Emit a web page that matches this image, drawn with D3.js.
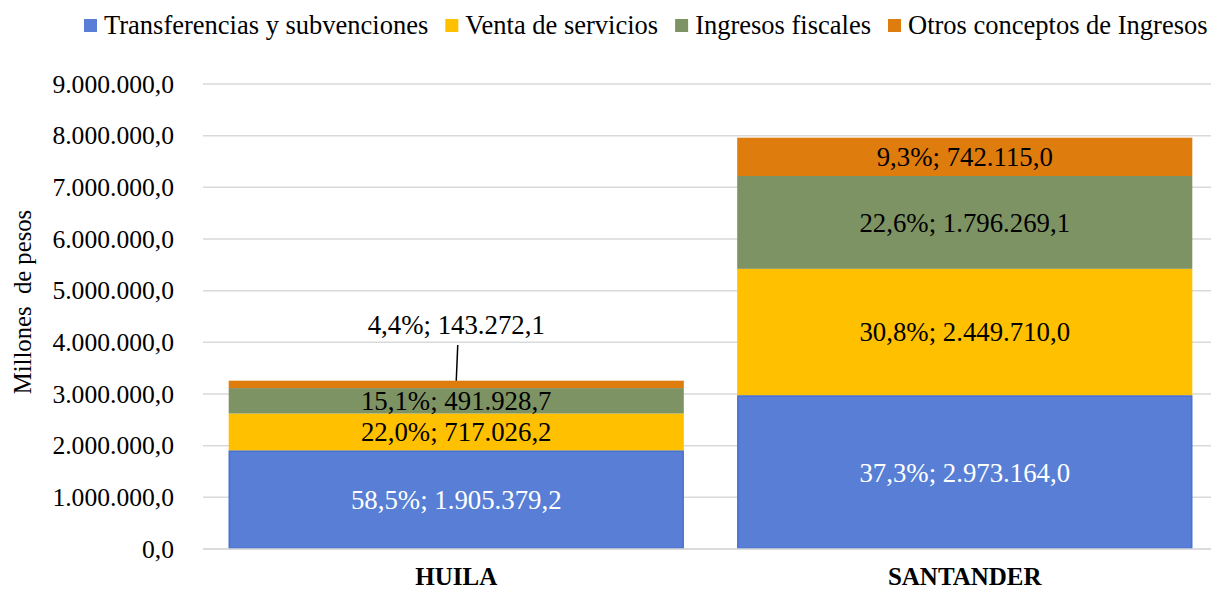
<!DOCTYPE html>
<html><head><meta charset="utf-8">
<script src="https://cdn.jsdelivr.net/npm/d3@7"></script>
<style>body{margin:0;background:#fff}svg, svg text{font-family:"Liberation Serif","Times New Roman",Times,"DejaVu Serif",serif !important}</style>
</head><body><svg id="c" width="1211" height="591"></svg>
<script>
const categories = ["HUILA", "SANTANDER"];
const seriesNames = ["Transferencias y subvenciones", "Venta de servicios", "Ingresos fiscales", "Otros conceptos de Ingresos"];
const transferencias = [1905379.2, 2973164.0];
const ventaServicios = [717026.2, 2449710.0];
const ingresosFiscales = [491928.7, 1796269.1];
const otrosConceptos = [143272.1, 742115.0];
const percentLabels = [["58,5%", "37,3%"], ["22,0%", "30,8%"], ["15,1%", "22,6%"], ["4,4%", "9,3%"]];
const yTicks = [0, 1000000, 2000000, 3000000, 4000000, 5000000, 6000000, 7000000, 8000000, 9000000];
const colors = ["#587fd5", "#ffc000", "#7d9363", "#df7c0e"];
const labelColors = ["#ffffff", "#000000", "#000000", "#000000"];

const seriesValues = [transferencias, ventaServicios, ingresosFiscales, otrosConceptos];
const rows = categories.map((c, i) => {
  const r = {cat: c};
  seriesNames.forEach((s, k) => r[s] = seriesValues[k][i]);
  return r;
});
const stack = d3.stack().keys(seriesNames)(rows);

const svg = d3.select("#c");
const y = d3.scaleLinear().domain([0, 9000000]).range([549, 84]);
const x = d3.scaleBand().domain(categories).range([202, 1219]).paddingInner(0.105).paddingOuter(0.0525);

const fmt = d3.formatLocale({decimal: ",", thousands: ".", grouping: [3], currency: ["", ""]}).format(",.1f");

// gridlines
svg.append("g").selectAll("line").data(yTicks).join("line")
  .attr("x1", 203).attr("x2", 1211)
  .attr("y1", d => y(d)).attr("y2", d => y(d))
  .attr("stroke", "#d9d9d9").attr("stroke-width", 1.5);

// y axis labels
const yAxis = d3.axisLeft(y).tickValues(yTicks).tickFormat(fmt).tickSize(0).tickPadding(0);
const yg = svg.append("g").attr("transform", "translate(174,0)").call(yAxis);
yg.attr("font-family", null).attr("font-size", null);
yg.select(".domain").remove();
yg.selectAll("text").attr("font-size", 25.6).attr("fill", "#000");

// bars
const layers = svg.append("g").selectAll("g").data(stack).join("g")
  .attr("fill", (d, i) => colors[i]);
layers.selectAll("rect").data(d => d).join("rect")
  .attr("x", d => x(d.data.cat))
  .attr("width", x.bandwidth())
  .attr("y", d => y(d[1]))
  .attr("height", d => y(d[0]) - y(d[1]));
// blue border
svg.append("g").selectAll("rect").data(stack[0]).join("rect")
  .attr("x", d => x(d.data.cat) + 0.75).attr("width", x.bandwidth() - 1.5)
  .attr("y", d => y(d[1]) + 0.75).attr("height", d => y(d[0]) - y(d[1]) - 1.5)
  .attr("fill", "none").attr("stroke", "#4a72d0").attr("stroke-width", 1.5);

// baseline
svg.append("line").attr("x1", 203).attr("x2", 1211).attr("y1", y(0)).attr("y2", y(0))
  .attr("stroke", "#d9d9d9").attr("stroke-width", 1.5);

// data labels
stack.forEach((layer, k) => {
  layer.forEach((d, i) => {
    const cx = x(d.data.cat) + x.bandwidth() / 2;
    const txt = percentLabels[k][i] + "; " + fmt(d.data[layer.key]);
    let cy = (y(d[0]) + y(d[1])) / 2;
    if (k === 3 && i === 0) {
      const ly = 325;
      svg.append("line").attr("x1", cx + 1.5).attr("y1", ly + 20).attr("x2", cx).attr("y2", y(d[1]))
        .attr("stroke", "#000").attr("stroke-width", 1.5);
      svg.append("text").attr("x", cx).attr("y", ly).attr("dy", "0.35em")
        .attr("text-anchor", "middle").attr("font-size", 26.8).attr("fill", "#000").text(txt);
    } else {
      svg.append("text").attr("x", cx).attr("y", cy).attr("dy", "0.35em")
        .attr("text-anchor", "middle").attr("font-size", 26.8).attr("fill", labelColors[k]).text(txt);
    }
  });
});

// x axis labels
svg.append("g").selectAll("text").data(categories).join("text")
  .attr("x", d => x(d) + x.bandwidth() / 2).attr("y", 576).attr("dy", "0.35em")
  .attr("text-anchor", "middle").attr("font-weight", "bold").attr("font-size", 25).text(d => d);

// y title
svg.append("text").attr("transform", "translate(22,302) rotate(-90)").attr("dy", "0.35em")
  .attr("text-anchor", "middle").attr("font-size", 24.7).attr("xml:space", "preserve")
  .text("Millones  de pesos");

// legend
const legend = svg.append("g");
let lx = 84;
seriesNames.forEach((s, k) => {
  legend.append("rect").attr("x", lx).attr("y", 19).attr("width", 13).attr("height", 13).attr("fill", colors[k]);
  const t = legend.append("text").attr("x", lx + 20).attr("y", 25).attr("dy", "0.35em")
    .attr("font-size", 26.5).attr("fill", "#000").text(s);
  lx += 20 + t.node().getComputedTextLength() + 17;
});
</script></body></html>
